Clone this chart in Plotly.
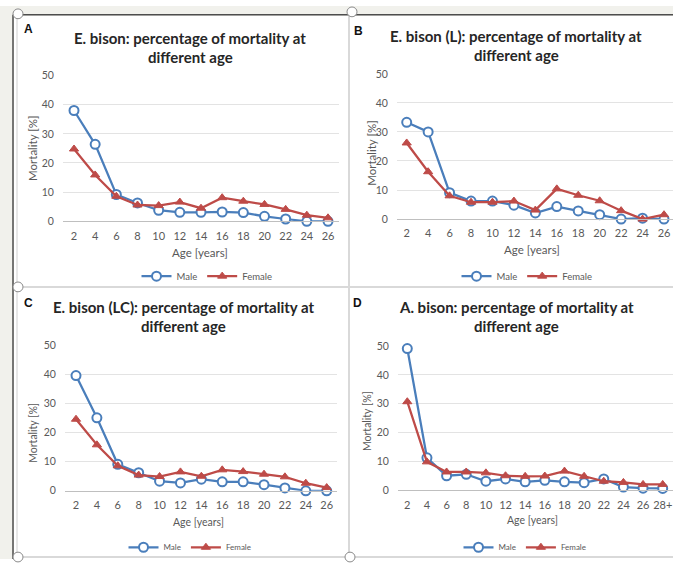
import plotly.graph_objects as go

W, H = 673, 565

# ---------------- data ----------------
ages_e = ["2", "4", "6", "8", "10", "12", "14", "16", "18", "20", "22", "24", "26"]
ages_a = ["2", "4", "6", "8", "10", "12", "14", "16", "18", "20", "22", "24", "26", "28+"]

a_male = [38.0, 26.4, 9.2, 6.3, 3.8, 3.1, 3.1, 3.2, 3.0, 1.7, 0.8, 0.0, 0.0]
a_female = [24.8, 15.9, 8.6, 5.6, 5.4, 6.6, 4.5, 8.1, 6.9, 5.8, 4.1, 2.1, 1.2]

b_male = [33.3, 30.0, 9.1, 6.2, 6.2, 4.8, 2.1, 4.3, 2.8, 1.5, 0.0, 0.3, 0.0]
b_female = [26.2, 16.3, 8.0, 5.8, 5.8, 6.2, 3.1, 10.4, 8.2, 6.3, 2.9, 0.0, 1.5]

c_male = [39.6, 25.1, 9.1, 6.2, 3.3, 2.7, 4.0, 3.1, 3.1, 2.1, 1.0, 0.0, 0.0]
c_female = [24.6, 15.8, 8.6, 5.4, 4.9, 6.5, 5.0, 7.2, 6.6, 5.7, 4.8, 2.6, 1.1]

d_male = [49.1, 11.3, 5.1, 5.6, 3.2, 4.0, 3.0, 3.5, 3.0, 2.7, 4.0, 1.2, 0.8, 0.7]
d_female = [30.7, 9.9, 6.4, 6.4, 6.1, 5.1, 4.9, 5.0, 6.7, 4.9, 3.2, 2.8, 2.1, 2.1]

titles = [
    ("E. bison: percentage of mortality at", "different age"),
    ("E. bison (L): percentage of mortality at", "different age"),
    ("E. bison (LC): percentage of mortality at", "different age"),
    ("A. bison: percentage of mortality at", "different age"),
]
panel_letters = ["A", "B", "C", "D"]
series_names = ["Male", "Female"]
y_title = "Mortality [%]"
x_title = "Age [years]"

# ---------------- layout geometry (pixels) ----------------
def px(x):
    return x / W

def py(y):
    return 1 - y / H

geom = [
    dict(x0=74.0, x1=328.0, left=63.0, right=339.0, yb=220.0, yt=71.0,
         title_x=190, t1=33, t2=52, lab=(28, 24), ytx=(33, 145), xtx=(200, 252), leg=(207, 276), lfs=9.5, ytfs=11.5),
    dict(x0=406.7, x1=664.0, left=397.0, right=673.0, yb=217.7, yt=69.3,
         title_x=516, t1=31, t2=50, lab=(358, 26), ytx=(372, 150), xtx=(532, 249), leg=(527, 276), lfs=9.5, ytfs=11.5),
    dict(x0=76.0, x1=326.7, left=65.0, right=337.0, yb=495.3, yt=346.7,
         title_x=184, t1=308, t2=327, lab=(28, 303), ytx=(33, 436), xtx=(198, 527), leg=(190, 553), lfs=8, ytfs=10.5),
    dict(x0=407.3, x1=662.7, left=398.0, right=672.5, yb=495.0, yt=347.3,
         title_x=516, t1=308, t2=327, lab=(357, 303), ytx=(367, 424), xtx=(532, 525), leg=(525, 553), lfs=8, ytfs=10.5),
]

data_sets = [
    (ages_e, a_male, a_female),
    (ages_e, b_male, b_female),
    (ages_e, c_male, c_female),
    (ages_a, d_male, d_female),
]

BLUE = "#4A7EBB"
RED = "#BE4B48"
FONT = "Lato, 'Open Sans', sans-serif"
GRAY = "#595959"

fig = go.Figure()
annotations = []
shapes = []

shapes.append(dict(type="rect", xref="paper", yref="paper", x0=0, x1=1, y0=0, y1=1,
                   fillcolor="#F1F1EC", line_width=0, layer="below"))
shapes.append(dict(type="rect", xref="paper", yref="paper", x0=px(14), x1=1, y0=0, y1=py(10),
                   fillcolor="#FFFFFF", line_width=0, layer="below"))
shapes.append(dict(type="line", xref="paper", yref="paper", x0=px(13), x1=1, y0=py(9), y1=py(9),
                   line=dict(color="#4D4D4D", width=1.5)))
shapes.append(dict(type="line", xref="paper", yref="paper", x0=px(13), x1=px(13), y0=0, y1=py(9),
                   line=dict(color="#4D4D4D", width=1.5)))
shapes.append(dict(type="line", xref="paper", yref="paper", x0=px(17), x1=px(17), y0=0, y1=py(11),
                   line=dict(color="#D0D0D0", width=1)))
shapes.append(dict(type="line", xref="paper", yref="paper", x0=px(349), x1=px(349), y0=py(563), y1=py(10),
                   line=dict(color="#D9D9D9", width=2)))
shapes.append(dict(type="line", xref="paper", yref="paper", x0=px(14), x1=1, y0=py(287), y1=py(287),
                   line=dict(color="#D9D9D9", width=2)))
shapes.append(dict(type="line", xref="paper", yref="paper", x0=px(14), x1=1, y0=py(563), y1=py(563),
                   line=dict(color="#D9D9D9", width=2)))
for cx, cy in [(18, 8), (352, 6), (18, 287), (18, 563), (350, 563)]:
    shapes.append(dict(type="circle", xref="paper", yref="paper",
                       x0=px(cx - 5), x1=px(cx + 5), y0=py(cy + 5), y1=py(cy - 5),
                       fillcolor="#FFFFFF", line=dict(color="#8A8A8A", width=1)))

for i, (g, (cats, male, female)) in enumerate(zip(geom, data_sets)):
    n = i + 1
    xa = "x" if n == 1 else f"x{n}"
    ya = "y" if n == 1 else f"y{n}"
    leg = "legend" if n == 1 else f"legend{n}"
    sp = (g["x1"] - g["x0"]) / (len(cats) - 1)
    r0 = (g["left"] - g["x0"]) / sp
    r1 = (g["right"] - g["x0"]) / sp

    fig.add_trace(go.Scatter(
        x=cats, y=male, name=series_names[0], mode="lines+markers",
        xaxis=xa, yaxis=ya, legend=leg, cliponaxis=False,
        line=dict(color=BLUE, width=2.25),
        marker=dict(symbol="circle", size=9, color="#FFFFFF", line=dict(color=BLUE, width=2)),
    ))
    fig.add_trace(go.Scatter(
        x=cats, y=female, name=series_names[1], mode="lines+markers",
        xaxis=xa, yaxis=ya, legend=leg, cliponaxis=False,
        line=dict(color=RED, width=2.25),
        marker=dict(symbol="triangle-up", size=8, color=RED, line=dict(color=RED, width=1)),
    ))

    xkey = "xaxis" if n == 1 else f"xaxis{n}"
    ykey = "yaxis" if n == 1 else f"yaxis{n}"
    fig.update_layout(**{
        xkey: dict(domain=[px(g["left"]), px(g["right"])], anchor=ya, type="category",
                   categoryorder="array", categoryarray=cats,
                   range=[r0, r1], showgrid=False, zeroline=False,
                   showline=True, linecolor="#BFBFBF", linewidth=1,
                   ticks="outside", ticklen=4, tickcolor="rgba(0,0,0,0)",
                   tickfont=dict(family=FONT, size=11, color=GRAY), fixedrange=True),
        ykey: dict(domain=[py(g["yb"]), py(g["yt"])], anchor=xa, range=[0, 50], dtick=10,
                   showgrid=True, gridcolor="#E3E3E3", gridwidth=1, zeroline=False, showline=False,
                   ticks="outside", ticklen=6, tickcolor="rgba(0,0,0,0)",
                   tickfont=dict(family=FONT, size=10.5, color=GRAY), fixedrange=True),
        leg: dict(orientation="h", xref="paper", yref="paper", x=px(g["leg"][0]), y=py(g["leg"][1]),
                  xanchor="center", yanchor="middle", bgcolor="rgba(0,0,0,0)",
                  font=dict(family=FONT, size=g["lfs"], color=GRAY),
                  itemwidth=30, tracegroupgap=0, itemsizing="trace"),
    })

    annotations.append(dict(text=f"<b>{titles[i][0]}</b>", x=px(g["title_x"]), y=py(g["t1"]),
                            xref="paper", yref="paper", showarrow=False, xanchor="center", yanchor="middle",
                            font=dict(family=FONT, size=15, color="#262626")))
    annotations.append(dict(text=f"<b>{titles[i][1]}</b>", x=px(g["title_x"]), y=py(g["t2"]),
                            xref="paper", yref="paper", showarrow=False, xanchor="center", yanchor="middle",
                            font=dict(family=FONT, size=15, color="#262626")))
    annotations.append(dict(text=f"<b>{panel_letters[i]}</b>", x=px(g["lab"][0]), y=py(g["lab"][1]),
                            xref="paper", yref="paper", showarrow=False, xanchor="center", yanchor="middle",
                            font=dict(family="Arial, 'Liberation Sans', sans-serif", size=12, color="#111111")))
    annotations.append(dict(text=y_title, x=px(g["ytx"][0]), y=py(g["ytx"][1]), textangle=-90,
                            xref="paper", yref="paper", showarrow=False, xanchor="center", yanchor="middle",
                            font=dict(family=FONT, size=g["ytfs"], color=GRAY)))
    annotations.append(dict(text=x_title, x=px(g["xtx"][0]), y=py(g["xtx"][1]),
                            xref="paper", yref="paper", showarrow=False, xanchor="center", yanchor="middle",
                            font=dict(family=FONT, size=g["ytfs"], color=GRAY)))

fig.update_layout(
    width=W, height=H,
    margin=dict(l=0, r=0, t=0, b=0),
    paper_bgcolor="#FFFFFF", plot_bgcolor="rgba(0,0,0,0)",
    showlegend=True,
    annotations=annotations, shapes=shapes,
    font=dict(family=FONT, color=GRAY),
)

fig.write_html("out.html", config={"displayModeBar": False, "staticPlot": True},
               post_script="document.body.style.margin='0';document.body.style.overflow='hidden';")
